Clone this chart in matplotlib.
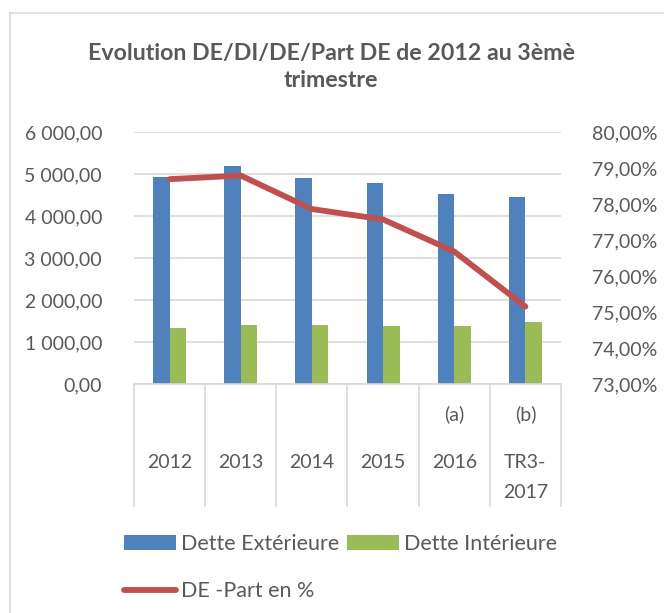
import matplotlib
matplotlib.use("Agg")
import matplotlib.pyplot as plt
from matplotlib.lines import Line2D
from matplotlib.ticker import FuncFormatter, FixedLocator
import numpy as np

plt.rcParams['font.family'] = ['Lato', 'DejaVu Sans']

categories = ["2012", "2013", "2014", "2015", "2016", "TR3-\n2017"]
sub_labels = ["", "", "", "", "(a)", "(b)"]
dette_ext = [4923, 5192, 4907, 4797, 4534, 4447]
dette_int = [1324, 1395, 1395, 1379, 1371, 1466]
de_part = [78.69, 78.79, 77.86, 77.57, 76.68, 75.15]

title = "Evolution DE/DI/DE/Part DE de 2012 au 3èmè\ntrimestre"
lab_ext = "Dette Extérieure"
lab_int = "Dette Intérieure"
lab_part = "DE -Part en %"

BLUE = "#4F81BD"
GREEN = "#9BBB59"
RED = "#C0504D"
GRID = "#D9D9D9"
TXT = "#595959"

W, H = 664, 613
fig = plt.figure(figsize=(W / 100, H / 100), dpi=100)

# outer chart border (top and left visible)
fig.add_artist(Line2D([10 / W, 10 / W], [0, 1 - 13 / H], color=GRID, lw=1.2))
fig.add_artist(Line2D([10 / W, 1], [1 - 13 / H, 1 - 13 / H], color=GRID, lw=1.2))

x0, x1, y0, y1 = 134, 561, 132, 384
ax = fig.add_axes([x0 / W, 1 - y1 / H, (x1 - x0) / W, (y1 - y0) / H])
ax2 = ax.twinx()

x = np.arange(len(categories))
bw = 0.232
ax.bar(x - bw / 2, dette_ext, width=bw, color=BLUE, label=lab_ext, zorder=2)
ax.bar(x + bw / 2, dette_int, width=bw, color=GREEN, label=lab_int, zorder=2)
ax.set_xlim(-0.5, len(categories) - 0.5)
ax.set_ylim(0, 6000)
ax.set_yticks(np.arange(0, 6001, 1000))
ax.yaxis.set_major_formatter(FuncFormatter(
    lambda v, p: "{:,.2f}".format(v).replace(",", " ").replace(".", ",")))
ax.grid(axis='y', color=GRID, lw=1.2, zorder=0)
ax.set_axisbelow(True)

ln, = ax2.plot(x, de_part, color=RED, lw=4.2, solid_capstyle='round',
               solid_joinstyle='round', label=lab_part, zorder=3)
ax2.set_ylim(73, 80)
ax2.set_yticks(np.arange(73, 80.01, 1))
ax2.yaxis.set_major_formatter(FuncFormatter(
    lambda v, p: "{:.2f}%".format(v).replace(".", ",")))

for a in (ax, ax2):
    for s in a.spines.values():
        s.set_visible(False)
    a.tick_params(axis='y', length=0, labelsize=14, labelcolor=TXT)
ax.tick_params(axis='y', pad=23)
ax2.tick_params(axis='y', pad=22)
ax.spines['bottom'].set_visible(True)
ax.spines['bottom'].set_color(GRID)
ax.spines['bottom'].set_linewidth(1.2)

# category separators via minor ticks at boundaries
ax.set_xticks(x)
ax.set_xticklabels([])
ax.tick_params(axis='x', which='major', length=0)
ax.xaxis.set_minor_locator(FixedLocator(np.arange(-0.5, len(categories), 1.0)))
ax.tick_params(axis='x', which='minor', length=(507 - 384) * 0.72,
               color=GRID, width=1.2, direction='out')

to_y = lambda py: (384 - py) / (384 - 132) * 6000
for i, (c, s) in enumerate(zip(categories, sub_labels)):
    if "\n" in c:
        l1, l2 = c.split("\n")
        ax.text(i, to_y(462), l1, ha='center', va='center', fontsize=14,
                color=TXT, clip_on=False)
        ax.text(i, to_y(492), l2, ha='center', va='center', fontsize=14,
                color=TXT, clip_on=False)
    else:
        ax.text(i, to_y(462), c, ha='center', va='center', fontsize=14,
                color=TXT, clip_on=False)
    if s:
        ax.text(i, to_y(414), s, ha='center', va='center', fontsize=14,
                color=TXT, clip_on=False)

fig.text(331 / W, 1 - 67 / H, title, ha='center', va='center', fontsize=16.7,
         fontweight='bold', color=TXT, linespacing=1.35)

handles, labels = ax.get_legend_handles_labels()
h = [handles[0], ln, handles[1]]
l = [labels[0], lab_part, labels[1]]
leg = fig.legend(h, l, ncol=2, loc='upper left',
                 bbox_to_anchor=(124 / W, 1 - 534 / H), frameon=False,
                 fontsize=15.5, labelcolor=TXT, handlelength=2.42,
                 handleheight=0.65, handletextpad=0.22, columnspacing=0.37,
                 labelspacing=1.25, borderaxespad=0, borderpad=0)

fig.savefig("out.png", dpi=100)
